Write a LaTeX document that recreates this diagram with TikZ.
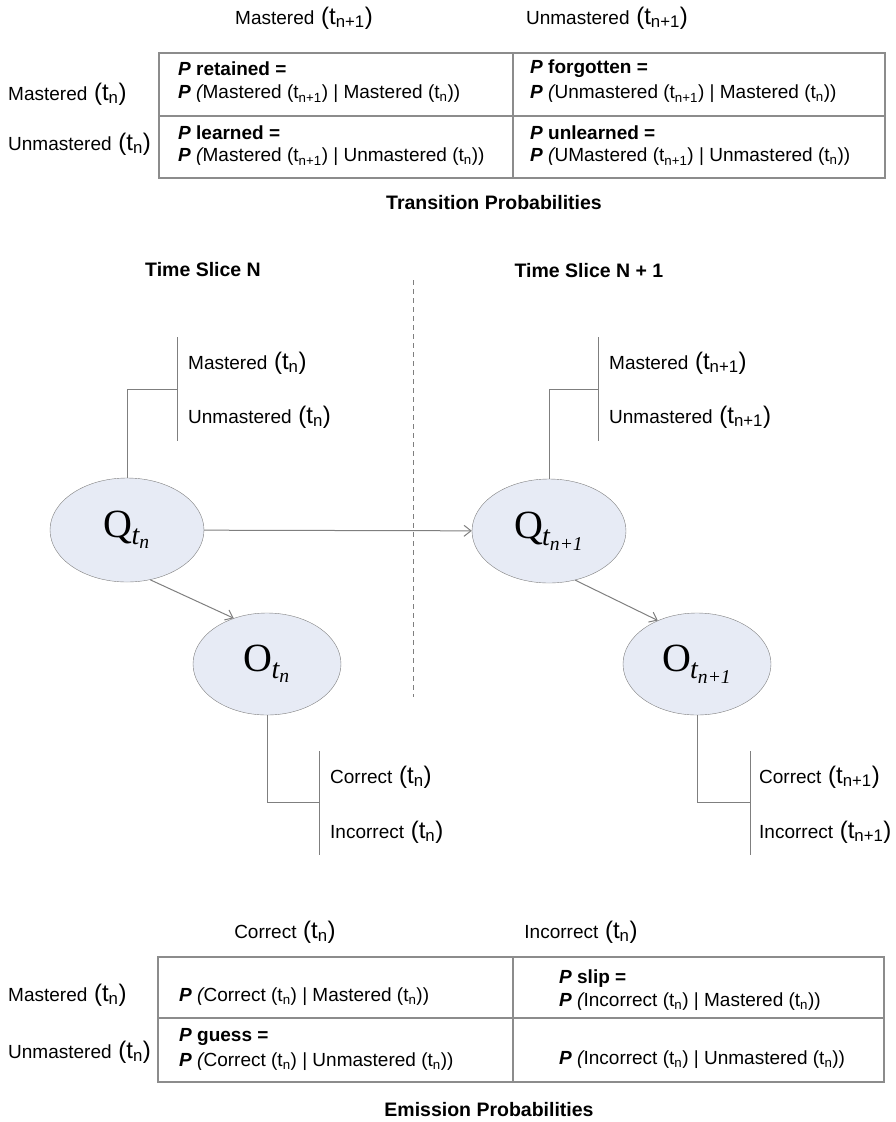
\documentclass[tikz,border=0pt]{standalone}
\usepackage{fontspec}
\setmainfont{Liberation Sans}
\newfontfamily\qfont{Liberation Serif}
\usetikzlibrary{arrows}
\usetikzlibrary{arrows.meta}
\usetikzlibrary{shapes}

\definecolor{linegray}{HTML}{7F7F7F}
\definecolor{ovalfill}{HTML}{E7EBF5}

\newcommand{\txsize}{\fontsize{19}{22}\selectfont}
\newcommand{\Tn}[1]{{\fontsize{24}{26}\selectfont\ (t\textsubscript{#1})}}
\newcommand{\tn}[1]{(t\textsubscript{#1})}
\newcommand{\Pb}{\textbf{\textit{P}} \textit{(}\kern-1.5pt}
\newcommand{\qsub}[2]{#1\kern-1pt\textsubscript{\textit{t}\kern-0.5pt\textsubscript{\textit{#2}}}}

\begin{document}
\begin{tikzpicture}[x = 1pt, y = -1pt]
\tikzstyle{TextStyle}=[inner sep = 0pt, font = \txsize]
\tikzstyle{LabelStyle}=[TextStyle, anchor = west]
\tikzstyle{TitleStyle}=[inner sep = 0pt, font = \bfseries\fontsize{19.5}{22}\selectfont]
\tikzstyle{OvalStyle}=[shape = ellipse,
                       draw = linegray,
                       fill = ovalfill,
                       inner sep = 0pt,
                       minimum width = 154pt,
                       minimum height = 104pt,
                       font = \qfont\fontsize{40}{42}\selectfont]
\tikzstyle{ObsStyle}=[OvalStyle, minimum width = 148pt, minimum height = 102pt]
\tikzstyle{LinkStyle}=[draw = linegray, line width = 1pt]
\tikzstyle{ArrowStyle}=[LinkStyle, -{Straight Barb[length = 7pt, width = 11pt]}]
\tikzstyle{TableStyle}=[draw = linegray!90, line width = 1.3pt]
\useasboundingbox (0,0) rectangle (896,1122);
% transition probabilities
\node[TextStyle] (tHeadM) at (304,18) {Mastered\Tn{n+1}};
\node[TextStyle] (tHeadU) at (607,18) {Unmastered\Tn{n+1}};
\node[LabelStyle] (tRowM) at (8,94) {Mastered\Tn{n}};
\node[LabelStyle] (tRowU) at (8,144) {Unmastered\Tn{n}};
\draw[TableStyle] (159,53) rectangle (885,178);
\draw[TableStyle] (159,116) -- (885,116);
\draw[TableStyle] (513,53) -- (513,178);
\node[LabelStyle] (tRetA) at (178,69) {\textbf{\textit{P} retained =}};
\node[LabelStyle] (tRetB) at (178,94) {\Pb Mastered \tn{n+1} | Mastered \tn{n})};
\node[LabelStyle] (tForA) at (530,69) {\textbf{\textit{P} forgotten =}};
\node[LabelStyle] (tForB) at (530,94) {\Pb Unmastered \tn{n+1} | Mastered \tn{n})};
\node[LabelStyle] (tLeaA) at (178,133) {\textbf{\textit{P} learned =}};
\node[LabelStyle] (tLeaB) at (178,157) {\Pb Mastered \tn{n+1} | Unmastered \tn{n})};
\node[LabelStyle] (tUnlA) at (530,133) {\textbf{\textit{P} unlearned =}};
\node[LabelStyle] (tUnlB) at (530,157) {\Pb UMastered \tn{n+1} | Unmastered \tn{n})};
\node[TitleStyle] (tTitle) at (494,203) {Transition Probabilities};
% time slices
\node[TitleStyle] (sliceN) at (203,270) {Time Slice N};
\node[TitleStyle] (sliceM) at (589,271) {Time Slice N + 1};
\coordinate (cutTop) at (413,280);
\coordinate (cutBot) at (413,697);
\draw[linegray, line width = 0.7pt, dash pattern = on 5pt off 4pt] (cutTop) -- (cutBot);
\node[OvalStyle] (Q1) at (127,530) {\qsub{Q}{n}};
\node[OvalStyle] (Q2) at (549,531) {\qsub{Q}{n+1}};
\node[ObsStyle] (O1) at (267,664) {\qsub{O}{n}};
\node[ObsStyle] (O2) at (697,664) {\qsub{O}{n+1}};
\draw[ArrowStyle] (Q1) -- (Q2);
\draw[ArrowStyle] (Q1.-65) -- (O1.126);
\draw[ArrowStyle] (Q2.-62) -- (O2.132);
% state values
\coordinate (q1Top) at (177,337);
\coordinate (q1Mid) at (177,389);
\coordinate (q1Bot) at (177,441);
\coordinate (q2Top) at (598,337);
\coordinate (q2Mid) at (598,389);
\coordinate (q2Bot) at (598,441);
\draw[LinkStyle] (q1Top) -- (q1Bot);
\draw[LinkStyle] (Q1.north) |- (q1Mid);
\draw[LinkStyle] (q2Top) -- (q2Bot);
\draw[LinkStyle] (Q2.north) |- (q2Mid);
\node[LabelStyle] (q1M) at (188,363) {Mastered\Tn{n}};
\node[LabelStyle] (q1U) at (188,417) {Unmastered\Tn{n}};
\node[LabelStyle] (q2M) at (609,363) {Mastered\Tn{n+1}};
\node[LabelStyle] (q2U) at (609,417) {Unmastered\Tn{n+1}};
% observation values
\coordinate (o1Top) at (319,751);
\coordinate (o1Mid) at (319,802);
\coordinate (o1Bot) at (319,855);
\coordinate (o2Top) at (750,751);
\coordinate (o2Mid) at (750,802);
\coordinate (o2Bot) at (750,855);
\draw[LinkStyle] (o1Top) -- (o1Bot);
\draw[LinkStyle] (O1.south) |- (o1Mid);
\draw[LinkStyle] (o2Top) -- (o2Bot);
\draw[LinkStyle] (O2.south) |- (o2Mid);
\node[LabelStyle] (o1C) at (330,777) {Correct\Tn{n}};
\node[LabelStyle] (o1I) at (330,832) {Incorrect\Tn{n}};
\node[LabelStyle] (o2C) at (759,777) {Correct\Tn{n+1}};
\node[LabelStyle] (o2I) at (759,832) {Incorrect\Tn{n+1}};
% emission probabilities
\node[TextStyle] (eHeadC) at (285,932) {Correct\Tn{n}};
\node[TextStyle] (eHeadI) at (581,932) {Incorrect\Tn{n}};
\node[LabelStyle] (eRowM) at (8,995) {Mastered\Tn{n}};
\node[LabelStyle] (eRowU) at (8,1052) {Unmastered\Tn{n}};
\draw[TableStyle] (158,957) rectangle (884,1082);
\draw[TableStyle] (158,1018) -- (884,1018);
\draw[TableStyle] (513,957) -- (513,1082);
\node[LabelStyle] (eCorM) at (179,997) {\Pb Correct \tn{n} | Mastered \tn{n})};
\node[LabelStyle] (eSlipA) at (559,979) {\textbf{\textit{P} slip =}};
\node[LabelStyle] (eSlipB) at (559,1002) {\Pb Incorrect \tn{n} | Mastered \tn{n})};
\node[LabelStyle] (eGueA) at (179,1037) {\textbf{\textit{P} guess =}};
\node[LabelStyle] (eGueB) at (179,1062) {\Pb Correct \tn{n} | Unmastered \tn{n})};
\node[LabelStyle] (eIncU) at (559,1060) {\Pb Incorrect \tn{n} | Unmastered \tn{n})};
\node[TitleStyle] (eTitle) at (489,1110) {Emission Probabilities};
\end{tikzpicture}
\end{document}
